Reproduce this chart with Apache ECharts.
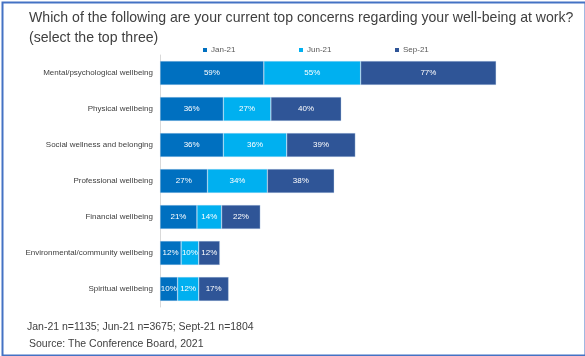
<!DOCTYPE html>
<html><head><meta charset="utf-8">
<script src="https://cdn.jsdelivr.net/npm/echarts@6/dist/echarts.min.js"></script>
<style>html,body{margin:0;padding:0;background:#fff}#c{width:585px;height:356px}</style>
</head><body><div id="c"></div>
<script>
const categories = ['Mental/psychological wellbeing','Physical wellbeing','Social wellness and belonging','Professional wellbeing','Financial wellbeing','Environmental/community wellbeing','Spiritual wellbeing'];
const seriesNames = ['Jan-21','Jun-21','Sep-21'];
const jan21 = [59,36,36,27,21,12,10];
const jun21 = [55,27,36,34,14,10,12];
const sep21 = [77,40,39,38,22,12,17];
const colors = ['#0070C0','#00B0F0','#2F5597'];
const FONT = "'Liberation Sans', Arial, sans-serif";

const chart = echarts.init(document.getElementById('c'), null, {renderer:'canvas'});
const mk = (name, data, i) => ({
  name, type:'bar', stack:'total', data, barCategoryGap:'33%',
  itemStyle:{color:colors[i], borderColor:'rgba(200,220,240,0.7)', borderWidth:0.5},
  label:{show:true, position:'inside', formatter:'{c}%', color:'#fff', fontSize:8, fontFamily:FONT},
  emphasis:{disabled:true}
});
const legendAt = (name, left) => ({
  data:[name], left, top:41, itemWidth:4, itemHeight:4, icon:'rect', itemGap:4,
  itemStyle:{borderWidth:0},
  textStyle:{fontSize:8, color:'#595959', fontFamily:FONT, padding:[0,0,0,-1]}
});
chart.setOption({
  animation:false,
  textStyle:{fontFamily:FONT},
  title:{text:'Which of the following are your current top concerns regarding your well-being at work?\n(select the top three)',
    left:24, top:3, textStyle:{fontSize:14.1, fontWeight:'normal', color:'#404040', lineHeight:20, fontFamily:FONT}},
  legend:[legendAt('Jan-21',198), legendAt('Jun-21',294), legendAt('Sep-21',390)],
  grid:{left:160, top:55, width:352, bottom:49},
  xAxis:{type:'value', min:0, max:200, show:false},
  yAxis:{type:'category', data:categories, inverse:true,
    axisLine:{lineStyle:{color:'#D9D9D9', width:1}}, axisTick:{show:false},
    axisLabel:{fontSize:8, color:'#404040', margin:7, fontFamily:FONT}},
  series:[mk(seriesNames[0],jan21,0), mk(seriesNames[1],jun21,1), mk(seriesNames[2],sep21,2)],
  graphic:[
    {type:'text', left:27, top:322, style:{text:'Jan-21 n=1135; Jun-21 n=3675; Sept-21 n=1804', fontSize:10.5, fill:'#404040', fontFamily:FONT}},
    {type:'text', left:29, top:339, style:{text:'Source: The Conference Board, 2021', fontSize:10.5, fill:'#404040', fontFamily:FONT}},
    {type:'rect', left:0, top:0, shape:{x:1, y:1, width:583, height:353}, style:{fill:'none', stroke:'#4472C4', lineWidth:2}, silent:true}
  ]
});
</script></body></html>
